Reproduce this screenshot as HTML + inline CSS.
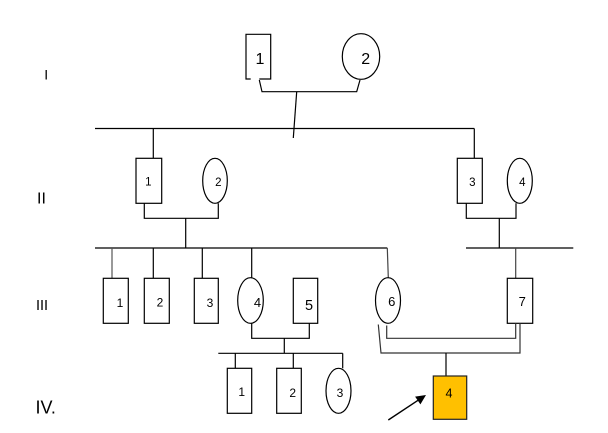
<!DOCTYPE html>
<html>
<head>
<meta charset="utf-8">
<style>
  html, body { margin: 0; padding: 0; background: #fff; }
  svg { display: block; }
  text { font-family: "Liberation Sans", sans-serif; fill: #000; }
</style>
</head>
<body>
<svg width="608" height="433" viewBox="0 0 608 433" xmlns="http://www.w3.org/2000/svg">
  <rect x="0" y="0" width="608" height="433" fill="#fff"/>
  <g stroke="#000" stroke-width="1.2" fill="none">
    <!-- Generation I -->
    <path d="M250.7,79 L246,79 L246,34.3 L270.7,34.3 L270.7,79 L259.3,79"/>
    <ellipse cx="361" cy="56.5" rx="18.7" ry="22.8"/>
    <path d="M259.3,80 L262,91.7 L356.7,91.7 L360,80"/>
    <line x1="296.7" y1="91.7" x2="293.3" y2="138"/>
    <line x1="95" y1="128.5" x2="474.3" y2="128.5"/>
    <line x1="153.3" y1="128.5" x2="153.3" y2="158.3"/>
    <line x1="474.3" y1="128.5" x2="474.3" y2="158.3"/>

    <!-- Generation II left -->
    <rect x="136" y="158.3" width="25.7" height="45"/>
    <ellipse cx="215" cy="180.8" rx="12.3" ry="22.5"/>
    <path d="M144.3,203.3 L144.3,218.3 L218.3,218.3 L218.3,203.3"/>
    <line x1="185.7" y1="218.3" x2="185.7" y2="248"/>

    <!-- Generation II right -->
    <rect x="457.3" y="158.3" width="25" height="45"/>
    <ellipse cx="519.8" cy="180.8" rx="12.5" ry="22.5"/>
    <path d="M466.3,203.3 L466.3,218.3 L516,218.3 L516,203.3"/>
    <line x1="499.3" y1="218.3" x2="499.3" y2="248"/>

    <!-- Gen III sibship line left -->
    <line x1="95" y1="248" x2="387.3" y2="248"/>
    <line x1="112" y1="248" x2="112" y2="278.3" stroke="#555"/>
    <line x1="153.3" y1="248" x2="153.3" y2="278.3"/>
    <line x1="202.3" y1="248" x2="202.3" y2="278.3"/>
    <line x1="251.7" y1="248" x2="251.7" y2="277.7"/>
    <line x1="387.3" y1="248" x2="388.3" y2="277.7" stroke="#444"/>

    <!-- Gen III right sibship line -->
    <line x1="466" y1="248" x2="573.3" y2="248"/>
    <line x1="515.7" y1="248" x2="515.7" y2="278.3" stroke="#444"/>

    <!-- Gen III individuals -->
    <rect x="103.3" y="278.3" width="25" height="45"/>
    <rect x="144.3" y="278.3" width="25" height="45"/>
    <rect x="194.3" y="278.3" width="24" height="45"/>
    <ellipse cx="250.5" cy="300.5" rx="12.8" ry="22.8"/>
    <rect x="293.3" y="278.3" width="24.4" height="45"/>
    <ellipse cx="388" cy="300.5" rx="12.5" ry="22.8"/>
    <rect x="507.3" y="278.3" width="25.4" height="45"/>

    <!-- III-4 x III-5 -->
    <path d="M251.7,323.3 L251.7,338.3 L309.3,338.3 L309.3,323.3"/>
    <line x1="284.3" y1="338.3" x2="284.3" y2="353.3"/>
    <line x1="218.3" y1="353.3" x2="342.7" y2="353.3"/>
    <line x1="235.3" y1="353.3" x2="235.3" y2="368.3"/>
    <line x1="293.3" y1="353.3" x2="293.3" y2="368.3"/>
    <line x1="342.7" y1="353.3" x2="342.7" y2="368.3"/>

    <!-- III-6 x III-7 consanguineous (double line) -->
    <g stroke="#333">
      <path d="M386.7,325.5 L386.7,338.3 L515.7,338.3 L515.7,323.3"/>
      <path d="M378.3,324.5 L381,353 L520,353 L520,323.3"/>
    </g>
    <line x1="446" y1="353" x2="446" y2="376"/>

    <!-- Generation IV -->
    <rect x="227.3" y="368.3" width="24.4" height="45"/>
    <rect x="276.7" y="368.3" width="24.6" height="45"/>
    <ellipse cx="338.5" cy="390.8" rx="12.5" ry="22.5"/>
    <rect x="433.3" y="376" width="33.4" height="43.3" fill="#FFC000" stroke="#222"/>

    <!-- Proband arrow -->
    <line x1="388.3" y1="420" x2="418" y2="400.3" stroke-width="1.4"/>
  </g>
  <polygon points="426,395 420.4,404.4 415.1,396.6" fill="#000"/>

  <!-- Generation labels -->
  <text x="44.2" y="79.3" font-size="14">I</text>
  <text x="37" y="203.3" font-size="16">II</text>
  <text x="36" y="310" font-size="14.5">III</text>
  <text x="35.5" y="413.3" font-size="18">IV.</text>

  <!-- Node labels -->
  <g text-anchor="middle">
    <text x="260" y="64" font-size="16">1</text>
    <text x="365.7" y="64" font-size="16">2</text>

    <text x="148.3" y="185.7" font-size="11.5">1</text>
    <text x="218.3" y="186" font-size="11.5">2</text>
    <text x="472.3" y="186" font-size="11.5">3</text>
    <text x="522.3" y="186" font-size="11.5">4</text>

    <text x="120" y="307" font-size="12">1</text>
    <text x="160" y="306.5" font-size="12">2</text>
    <text x="210" y="307" font-size="12">3</text>
    <text x="257.5" y="307" font-size="13">4</text>
    <text x="309" y="310" font-size="14.5">5</text>
    <text x="391.7" y="306" font-size="13">6</text>
    <text x="522.3" y="306" font-size="13">7</text>

    <text x="241.7" y="396" font-size="12">1</text>
    <text x="292.7" y="397" font-size="12">2</text>
    <text x="340" y="397" font-size="12">3</text>
    <text x="449" y="397.3" font-size="12.5">4</text>
  </g>
</svg>
</body>
</html>
